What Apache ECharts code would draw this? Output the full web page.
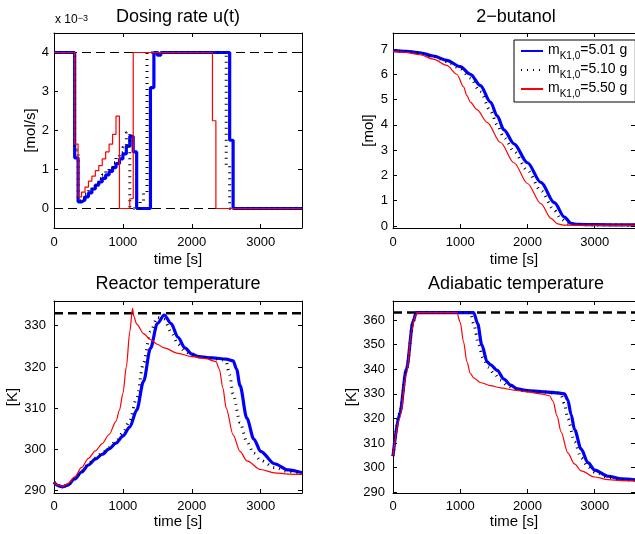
<!DOCTYPE html>
<html><head><meta charset="utf-8">
<script src="https://cdn.jsdelivr.net/npm/echarts@6/dist/echarts.min.js"></script>
<style>html,body{margin:0;padding:0;background:#fff}#c{width:635px;height:534px}</style>
</head><body><div id="c"></div>
<script>
// ---------- data ----------
const timeRange = [0, 3600];
const timeTicks = [0, 1000, 2000, 3000];
const legendMass = ['5.01', '5.10', '5.50'];
const legendNames = ['m501', 'm510', 'm550'];

// Dosing rate u(t) [x 10^-3 mol/s], zero-order hold breakpoints
const doseLimits = [0, 4];
const doseTicks = [0, 1, 2, 3, 4];
const doseT_blue = [0,300,350,400,450,500,550,600,650,700,750,800,850,900,950,1000,1050,1100,1150,1200,1400,1450,1500,1550,2550,2600,3600];
const doseU_blue = [4,1.3,0.17,0.22,0.3,0.4,0.5,0.6,0.68,0.77,0.86,0.95,1.05,1.15,1.27,1.4,1.6,1.85,1.45,0,3.1,4,3.93,4,1.75,0,0];
const doseT_black = [0,300,350,400,450,500,550,600,650,700,750,800,850,900,950,1000,1050,1100,1250,1300,1350,2500,2550,3600];
const doseU_black = [4,1.5,0.2,0.27,0.37,0.47,0.57,0.67,0.76,0.86,0.96,1.06,1.17,1.3,1.43,1.57,1.95,0,0.2,0.4,4,1.1,0,0];
const doseT_red = [0,300,350,400,450,500,550,600,650,700,750,800,850,900,950,1100,1150,2300,2350,3600];
const doseU_red = [4,1.65,0.3,0.42,0.55,0.7,0.83,0.97,1.1,1.27,1.45,1.65,1.9,2.37,0,0.25,4,2.25,0,0];

// 2-butanol [mol]
const butTicks = [0,1,2,3,4,5,6,7];
const butT_blue = [0,200,400,600,800,1000,1150,1300,1450,1550,1650,1800,2000,2200,2400,2550,2650,2750,3000,3600];
const butV_blue = [6.93,6.9,6.85,6.72,6.55,6.3,6.0,5.55,4.9,4.35,3.8,3.25,2.5,1.72,0.92,0.35,0.1,0.06,0.05,0.04];
const butT_black = [0,200,400,600,800,1000,1150,1300,1450,1550,1650,1800,2000,2200,2400,2500,2600,2700,3000,3600];
const butV_black = [6.93,6.9,6.84,6.7,6.5,6.22,5.85,5.3,4.55,4.0,3.5,2.95,2.2,1.4,0.62,0.28,0.1,0.06,0.04,0.03];
const butT_red = [0,200,400,600,800,950,1050,1100,1150,1250,1400,1600,1800,2000,2200,2350,2450,2550,3000,3600];
const butV_red = [6.9,6.86,6.77,6.6,6.35,6.0,5.5,5.15,4.9,4.6,4.1,3.3,2.5,1.68,0.88,0.3,0.08,0.03,0.02,0.02];

// Reactor temperature [K]
const reactorTmax = 333;
const rtTicks = [290,300,310,320,330];
const rtT_blue = [0,60,120,200,300,400,500,600,700,800,900,1000,1100,1200,1300,1400,1500,1600,1700,1800,1900,2000,2100,2300,2500,2600,2650,2700,2800,2900,3000,3200,3400,3600];
const rtV_blue = [292,291.2,290.9,291.3,292.8,294.5,296.2,297.6,298.8,300.1,301.5,303.2,305.4,309.5,316.5,324.5,330.5,332.6,330.5,327.2,324.6,323.1,322.5,322.2,321.9,321.5,319.5,315.5,307.5,302.5,299.5,296.5,295.0,294.3];
const rtT_black = [0,60,120,200,300,400,500,600,700,800,900,1000,1100,1200,1300,1400,1500,1600,1700,1800,1900,2000,2100,2300,2450,2500,2550,2600,2700,2800,2900,3000,3200,3400,3600];
const rtV_black = [292,291.2,290.9,291.3,292.9,294.7,296.5,297.9,299.1,300.5,302,304,307,312.5,321,328.5,332,331.5,328.5,325.5,323.8,322.8,322.4,322.1,321.7,321.2,318,313.5,306.5,301.8,299,297.3,295.6,294.6,294.2];
const rtT_red = [0,60,120,200,300,400,500,600,700,800,900,950,1000,1050,1100,1140,1160,1200,1300,1400,1500,1600,1800,2000,2200,2350,2400,2450,2500,2600,2700,2800,3000,3200,3400,3600];
const rtV_red = [292,291.3,291,291.6,293.3,295.6,297.8,299.6,301.4,303.6,306.8,309.5,313.5,320,328.5,334.2,332.2,330.4,328.1,326.6,325.5,324.6,323.3,322.5,322,321.3,319.5,315,310,303.5,299.5,297.2,295.1,294.3,294,293.9];

// Adiabatic temperature [K]
const adiabTmax = 363;
const adTicks = [290,300,310,320,330,340,350,360];
const adT_blue = [0,100,200,300,345,1200,1260,1320,1400,1450,1550,1650,1750,1850,2000,2200,2400,2550,2600,2650,2700,2800,2900,3000,3200,3400,3600];
const adV_blue = [304.7,322,340,359.5,363,363,358.5,350,343,341.8,339.5,336,333.5,332,331.3,330.9,330.5,330,327.5,321.5,315.5,307.5,302,299,296.5,295.4,295];
const adT_black = [0,100,200,300,350,1150,1200,1270,1340,1420,1500,1600,1700,1800,1950,2200,2450,2500,2550,2600,2700,2800,2900,3000,3200,3400,3600];
const adV_black = [304.7,322,340,359.5,363,363,358.5,350.5,344.5,340.8,338.3,335.6,333.4,332.1,331.3,330.8,330.3,329.5,326,320,310.5,304,300.3,298.2,296.1,295.2,294.8];
const adT_red = [0,100,200,280,330,360,950,1000,1050,1100,1150,1200,1300,1450,1600,1800,2000,2200,2330,2380,2440,2500,2600,2700,2800,3000,3200,3400,3600];
const adV_red = [304.7,320,338,356,361.5,363,363,359,351,343,338.3,336.5,334.6,333.3,332.4,331.5,330.8,330,329.2,327,321,314.5,306,301.5,298.7,296.2,295.1,294.7,294.6];

// ---------- chart ----------
const FONT = '"Liberation Sans", Arial, Helvetica, sans-serif';
const grids = [
  {left:54, top:33, width:248, height:195},
  {left:393, top:33, width:247, height:195},
  {left:54, top:301, width:248, height:192},
  {left:393, top:301, width:247, height:192}
];
const xCfg = [
  {margin:8, gap:24}, {margin:8, gap:24}, {margin:7, gap:21}, {margin:7, gap:21}
];
const yCfg = [
  {min:-0.5, max:4.5, ticks:doseTicks, name:'[mol/s]', gap:15, margin:5},
  {min:-0.08, max:7.63, ticks:butTicks, name:'[mol]', gap:17, margin:5},
  {min:289.4, max:336, ticks:rtTicks, name:'[K]', gap:31, margin:8},
  {min:289.7, max:367.7, ticks:adTicks, name:'[K]', gap:27, margin:8}
];
const pts = (t, v) => t.map((x, i) => [x, v[i]]);
const plain = v => String(v);
const lineAx = {show:true, onZero:false, lineStyle:{color:'#000', width:1}};
const tickBase = {show:true, inside:true, length:4, lineStyle:{color:'#000', width:1}};
const xAxis = [], yAxis = [];
grids.forEach((g, i) => {
  const yc = yCfg[i], xc = xCfg[i];
  xAxis.push({type:'value', gridIndex:i, min:timeRange[0], max:timeRange[1], position:'bottom',
    axisLine:lineAx, axisTick:Object.assign({}, tickBase, {customValues:timeTicks}),
    axisLabel:{customValues:timeTicks, formatter:plain, color:'#000', fontSize:13, fontFamily:FONT, margin:xc.margin},
    splitLine:{show:false},
    name:'time [s]', nameLocation:'middle', nameGap:xc.gap,
    nameTextStyle:{color:'#000', fontSize:15, fontFamily:FONT}});
  xAxis.push({type:'value', gridIndex:i, min:timeRange[0], max:timeRange[1], position:'top',
    axisLine:lineAx, axisTick:Object.assign({}, tickBase, {customValues:timeTicks}),
    axisLabel:{show:false}, splitLine:{show:false}});
  yAxis.push({type:'value', gridIndex:i, min:yc.min, max:yc.max, position:'left',
    axisLine:lineAx, axisTick:Object.assign({}, tickBase, {customValues:yc.ticks}),
    axisLabel:{customValues:yc.ticks, formatter:plain, color:'#000', fontSize:13, fontFamily:FONT, margin:yc.margin},
    splitLine:{show:false},
    name:yc.name, nameLocation:'middle', nameGap:yc.gap, nameRotate:90,
    nameTextStyle:{color:'#000', fontSize:15, fontFamily:FONT}});
  yAxis.push({type:'value', gridIndex:i, min:yc.min, max:yc.max, position:'right',
    axisLine:lineAx, axisTick:Object.assign({}, tickBase, {customValues:yc.ticks}),
    axisLabel:{show:false}, splitLine:{show:false}});
});

const styles = [
  {color:'#0000ff', width:3.2, type:'solid'},
  {color:'#000000', width:3, type:[1,5]},
  {color:'#ff0000', width:1.2, type:'solid'}
];
function mk(gi, k, data, step) {
  const s = styles[k];
  return {type:'line', name:legendNames[k], xAxisIndex:2*gi, yAxisIndex:2*gi, data:data,
    showSymbol:false, symbol:'none', step:step || false, smooth: step ? false : 0.3,
    smoothMonotone:'x', z:3+k,
    lineStyle:{color:s.color, width:s.width, type:s.type, cap:'butt'}, itemStyle:{color:s.color},
    emphasis:{disabled:true}, silent:true};
}
function limitLine(gi, y, w, dash) {
  return {type:'line', xAxisIndex:2*gi, yAxisIndex:2*gi, data:[[timeRange[0], y],[timeRange[1], y]],
    showSymbol:false, symbol:'none', z:2, silent:true,
    lineStyle:{color:'#000', width:w, type:dash}};
}
const series = [
  limitLine(0, doseLimits[0], 1.2, [9,5]), limitLine(0, doseLimits[1], 1.2, [9,5]),
  mk(0,0,pts(doseT_blue,doseU_blue),'end'), mk(0,1,pts(doseT_black,doseU_black),'end'), mk(0,2,pts(doseT_red,doseU_red),'end'),
  mk(1,0,pts(butT_blue,butV_blue)), mk(1,1,pts(butT_black,butV_black)), mk(1,2,pts(butT_red,butV_red)),
  limitLine(2, reactorTmax, 2.5, [9,5]),
  mk(2,0,pts(rtT_blue,rtV_blue)), mk(2,1,pts(rtT_black,rtV_black)), mk(2,2,pts(rtT_red,rtV_red)),
  limitLine(3, adiabTmax, 2.5, [9,5]),
  mk(3,0,pts(adT_blue,adV_blue)), mk(3,1,pts(adT_black,adV_black)), mk(3,2,pts(adT_red,adV_red))
];

const titles = [
  {text:'Dosing rate u(t)', x:178, y:17},
  {text:'2\u2212butanol', x:516, y:17},
  {text:'Reactor temperature', x:178, y:284},
  {text:'Adiabatic temperature', x:516, y:284}
];
const graphic = titles.map(t => ({type:'text', x:t.x, y:t.y, style:{text:t.text, fill:'#000',
  font:'18px ' + FONT, textAlign:'center', textVerticalAlign:'middle'}}));
graphic.push({type:'text', x:55, y:14, style:{text:'{a|x 10}{b|\u22123}', fill:'#000',
  rich:{a:{fontSize:12, fontFamily:FONT, verticalAlign:'bottom', lineHeight:12, padding:[6,0,0,0]},
        b:{fontSize:9, fontFamily:FONT, verticalAlign:'top', lineHeight:9}}}});

const chart = echarts.init(document.getElementById('c'), null, {renderer:'canvas'});
chart.setOption({
  animation:false,
  backgroundColor:'#fff',
  grid:grids.map(g => Object.assign({containLabel:false}, g)),
  xAxis:xAxis, yAxis:yAxis, series:series, graphic:graphic,
  legend:{data:legendNames, orient:'vertical', left:514, top:40, padding:[3,8,3,6], itemGap:1,
    itemWidth:22, itemHeight:12, backgroundColor:'#fff', borderColor:'#000', borderWidth:1,
    selectedMode:false, z:10, itemStyle:{opacity:0, borderWidth:0},
    formatter: n => '{m|m}{s|K1,0}{m|=' + legendMass[legendNames.indexOf(n)] + ' g}',
    textStyle:{color:'#000', fontFamily:FONT, fontSize:14,
      rich:{m:{fontSize:14, fontFamily:FONT, lineHeight:16, verticalAlign:'top'},
            s:{fontSize:10, fontFamily:FONT, lineHeight:10, verticalAlign:'top', padding:[8,0,0,0]}}}}
});
</script></body></html>
